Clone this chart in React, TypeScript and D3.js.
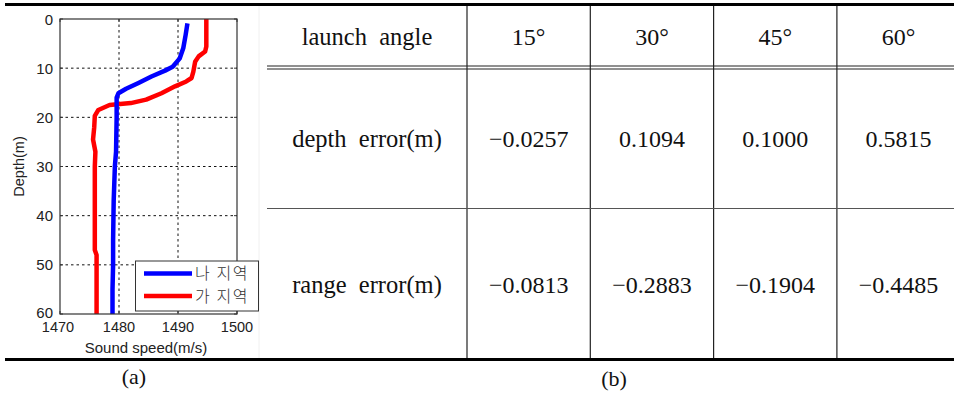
import React from "react";
import * as d3 from "d3";

// Sound speed profiles (depth in m, sound speed in m/s)
const naDepth = [0.9, 3.2, 5.9, 8.0, 9.7, 10.5, 11.7, 13.0, 14.2, 15.1, 16.0, 20, 27, 30, 37, 45, 50, 55, 60];
const naSpeed = [1491.6, 1491.3, 1490.9, 1490.3, 1489.1, 1487.8, 1485.5, 1483.3, 1481.2, 1479.9, 1479.6, 1479.6, 1479.5, 1479.3, 1479.1, 1479.0, 1479.0, 1478.9, 1478.9];

const gaDepth = [0, 5.6, 6.6, 7.6, 8.7, 10.7, 12.0, 12.7, 13.7, 15.1, 16.4, 17.1, 17.5, 18.5, 19.7, 22, 24.5, 27, 30, 37, 40, 47, 48, 60];
const gaSpeed = [1494.8, 1494.8, 1494.6, 1493.5, 1492.9, 1492.6, 1492.3, 1491.4, 1489.5, 1487.2, 1484.6, 1482.0, 1478.4, 1476.5, 1475.9, 1475.8, 1475.6, 1476.0, 1475.9, 1475.9, 1475.9, 1475.9, 1476.2, 1476.2];

const speedTicks = [1470, 1480, 1490, 1500];
const depthTicks = [0, 10, 20, 30, 40, 50, 60];

const seriesNames = ["나 지역", "가 지역"];
const seriesColors = ["#0000ff", "#ff0000"];

// Error table
const rowHeader = "launch  angle";
const angleLabels = ["15°", "30°", "45°", "60°"];
const rowLabels = ["depth  error(m)", "range  error(m)"];
const depthErrors = [-0.0257, 0.1094, 0.1, 0.5815];
const rangeErrors = [-0.0813, -0.2883, -0.1904, -0.4485];

const fmt = (v: number) => (v < 0 ? "\u2212" : "") + Math.abs(v).toFixed(4);

export default function App() {
  const W = 954;
  const H = 393;

  // Profile axes
  const x = d3.scaleLinear().domain([1470, 1500]).range([60, 237]);
  const y = d3.scaleLinear().domain([0, 60]).range([19, 314]);

  const line = d3
    .line<[number, number]>()
    .x((d) => x(d[1]))
    .y((d) => y(d[0]));

  const naPts = naDepth.map((d, i) => [d, naSpeed[i]] as [number, number]);
  const gaPts = gaDepth.map((d, i) => [d, gaSpeed[i]] as [number, number]);

  const axisFont = "'Liberation Sans', Arial, sans-serif";
  const serif = "'Liberation Serif', 'Times New Roman', serif";

  // Table geometry
  const tLeft = 267;
  const colX = d3.scaleLinear().domain([0, 1]).range([467, 590.3]);
  const rowTop = 6;
  const headBottom = 66;
  const row1Bottom = 208.5;
  const tBottom = 359;

  const tableRows = [
    { label: rowLabels[0], values: depthErrors, base: 147 },
    { label: rowLabels[1], values: rangeErrors, base: 293 },
  ];

  const legendY = [273.5, 296];

  return (
    <svg
      width={W}
      height={H}
      viewBox={`0 0 ${W} ${H}`}
      style={{ position: "absolute", left: 0, top: 0, display: "block", background: "#fff" }}
    >
      {/* outer rules */}
      <line x1={5} x2={W} y1={4.5} y2={4.5} stroke="#000" strokeWidth={3} />
      <line x1={5} x2={W} y1={359.5} y2={359.5} stroke="#000" strokeWidth={3} />
      <line x1={259} x2={259} y1={6} y2={358} stroke="#f0f0f0" strokeWidth={1} />

      {/* (a) sound speed profiles */}
      <g>
        {speedTicks.slice(1, -1).map((t) => (
          <line key={"gx" + t} x1={x(t)} x2={x(t)} y1={y(0)} y2={y(60)} stroke="#111" strokeWidth={1} strokeDasharray="2.5,3" />
        ))}
        {depthTicks.slice(1, -1).map((t) => (
          <line key={"gy" + t} x1={x(1470)} x2={x(1500)} y1={y(t)} y2={y(t)} stroke="#111" strokeWidth={1} strokeDasharray="2.5,3" />
        ))}
        <path d={line(gaPts) || ""} fill="none" stroke={seriesColors[1]} strokeWidth={4.5} strokeLinejoin="round" />
        <path d={line(naPts) || ""} fill="none" stroke={seriesColors[0]} strokeWidth={4.5} strokeLinejoin="round" />
        <rect x={x(1470)} y={y(0)} width={x(1500) - x(1470)} height={y(60) - y(0)} fill="none" stroke="#333" strokeWidth={1.2} />
        {speedTicks.map((t) => (
          <g key={"tx" + t}>
            <line x1={x(t)} x2={x(t)} y1={y(60)} y2={y(60) - 3} stroke="#333" />
            <line x1={x(t)} x2={x(t)} y1={y(0)} y2={y(0) + 3} stroke="#333" />
            <text x={x(t) - (t === 1470 ? 2 : 0)} y={332} textAnchor="middle" fontFamily={axisFont} fontSize={14.5} fill="#222">
              {t}
            </text>
          </g>
        ))}
        {depthTicks.map((t) => (
          <g key={"ty" + t}>
            <line x1={x(1470)} x2={x(1470) + 3} y1={y(t)} y2={y(t)} stroke="#333" />
            <line x1={x(1500)} x2={x(1500) - 3} y1={y(t)} y2={y(t)} stroke="#333" />
            <text x={53} y={y(t) + 5.5 - (t === 60 ? 2 : 0)} textAnchor="end" fontFamily={axisFont} fontSize={15} fill="#222">
              {t}
            </text>
          </g>
        ))}
        <text x={146} y={352.5} textAnchor="middle" fontFamily={axisFont} fontSize={15} fill="#222">
          Sound speed(m/s)
        </text>
        <text
          transform={`translate(24, ${(y(0) + y(60)) / 2}) rotate(-90)`}
          textAnchor="middle"
          fontFamily={axisFont}
          fontSize={14.5}
          fill="#222"
        >
          Depth(m)
        </text>

        {/* legend */}
        <rect x={135.5} y={261} width={123} height={50} fill="#fff" stroke="#333" strokeWidth={1} />
        {seriesNames.map((name, i) => (
          <g key={name}>
            <line x1={144} x2={192} y1={legendY[i]} y2={legendY[i]} stroke={seriesColors[i]} strokeWidth={4.5} />
            <text
              x={195}
              y={legendY[i] + 5.5}
              fontFamily="'Noto Sans CJK KR', sans-serif"
              fontWeight={300}
              fontSize={16}
              letterSpacing={1.6}
              fill="#333"
              style={{ whiteSpace: "pre" }}
            >
              {name}
            </text>
          </g>
        ))}
      </g>

      {/* (b) error table */}
      <g fontFamily={serif} fill="#111">
        {[0, 1, 2, 3].map((i) => (
          <line key={"cv" + i} x1={colX(i)} x2={colX(i)} y1={rowTop} y2={tBottom - 1} stroke="#222" strokeWidth={1.2} />
        ))}
        <line x1={tLeft} x2={W} y1={headBottom} y2={headBottom} stroke="#222" strokeWidth={1.2} />
        <line x1={tLeft} x2={W} y1={headBottom + 3} y2={headBottom + 3} stroke="#222" strokeWidth={1.2} />
        <line x1={tLeft} x2={W} y1={row1Bottom} y2={row1Bottom} stroke="#555" strokeWidth={1} />

        <text x={(tLeft + colX(0)) / 2} y={45} textAnchor="middle" fontSize={24.5} style={{ whiteSpace: "pre" }}>
          {rowHeader}
        </text>
        {angleLabels.map((a, i) => (
          <text key={a} x={(colX(i) + colX(i + 1)) / 2} y={45} textAnchor="middle" fontSize={24}>
            {a}
          </text>
        ))}
        {tableRows.map((r) => (
          <g key={r.label}>
            <text x={(tLeft + colX(0)) / 2} y={r.base} textAnchor="middle" fontSize={24.5} style={{ whiteSpace: "pre" }}>
              {r.label}
            </text>
            {r.values.map((v, i) => (
              <text key={i} x={(colX(i) + colX(i + 1)) / 2} y={r.base} textAnchor="middle" fontSize={24}>
                {fmt(v)}
              </text>
            ))}
          </g>
        ))}
      </g>

      {/* captions */}
      <text x={134} y={384} textAnchor="middle" fontFamily={serif} fontSize={22} fill="#111">
        (a)
      </text>
      <text x={614} y={386} textAnchor="middle" fontFamily={serif} fontSize={22} fill="#111">
        (b)
      </text>
    </svg>
  );
}
